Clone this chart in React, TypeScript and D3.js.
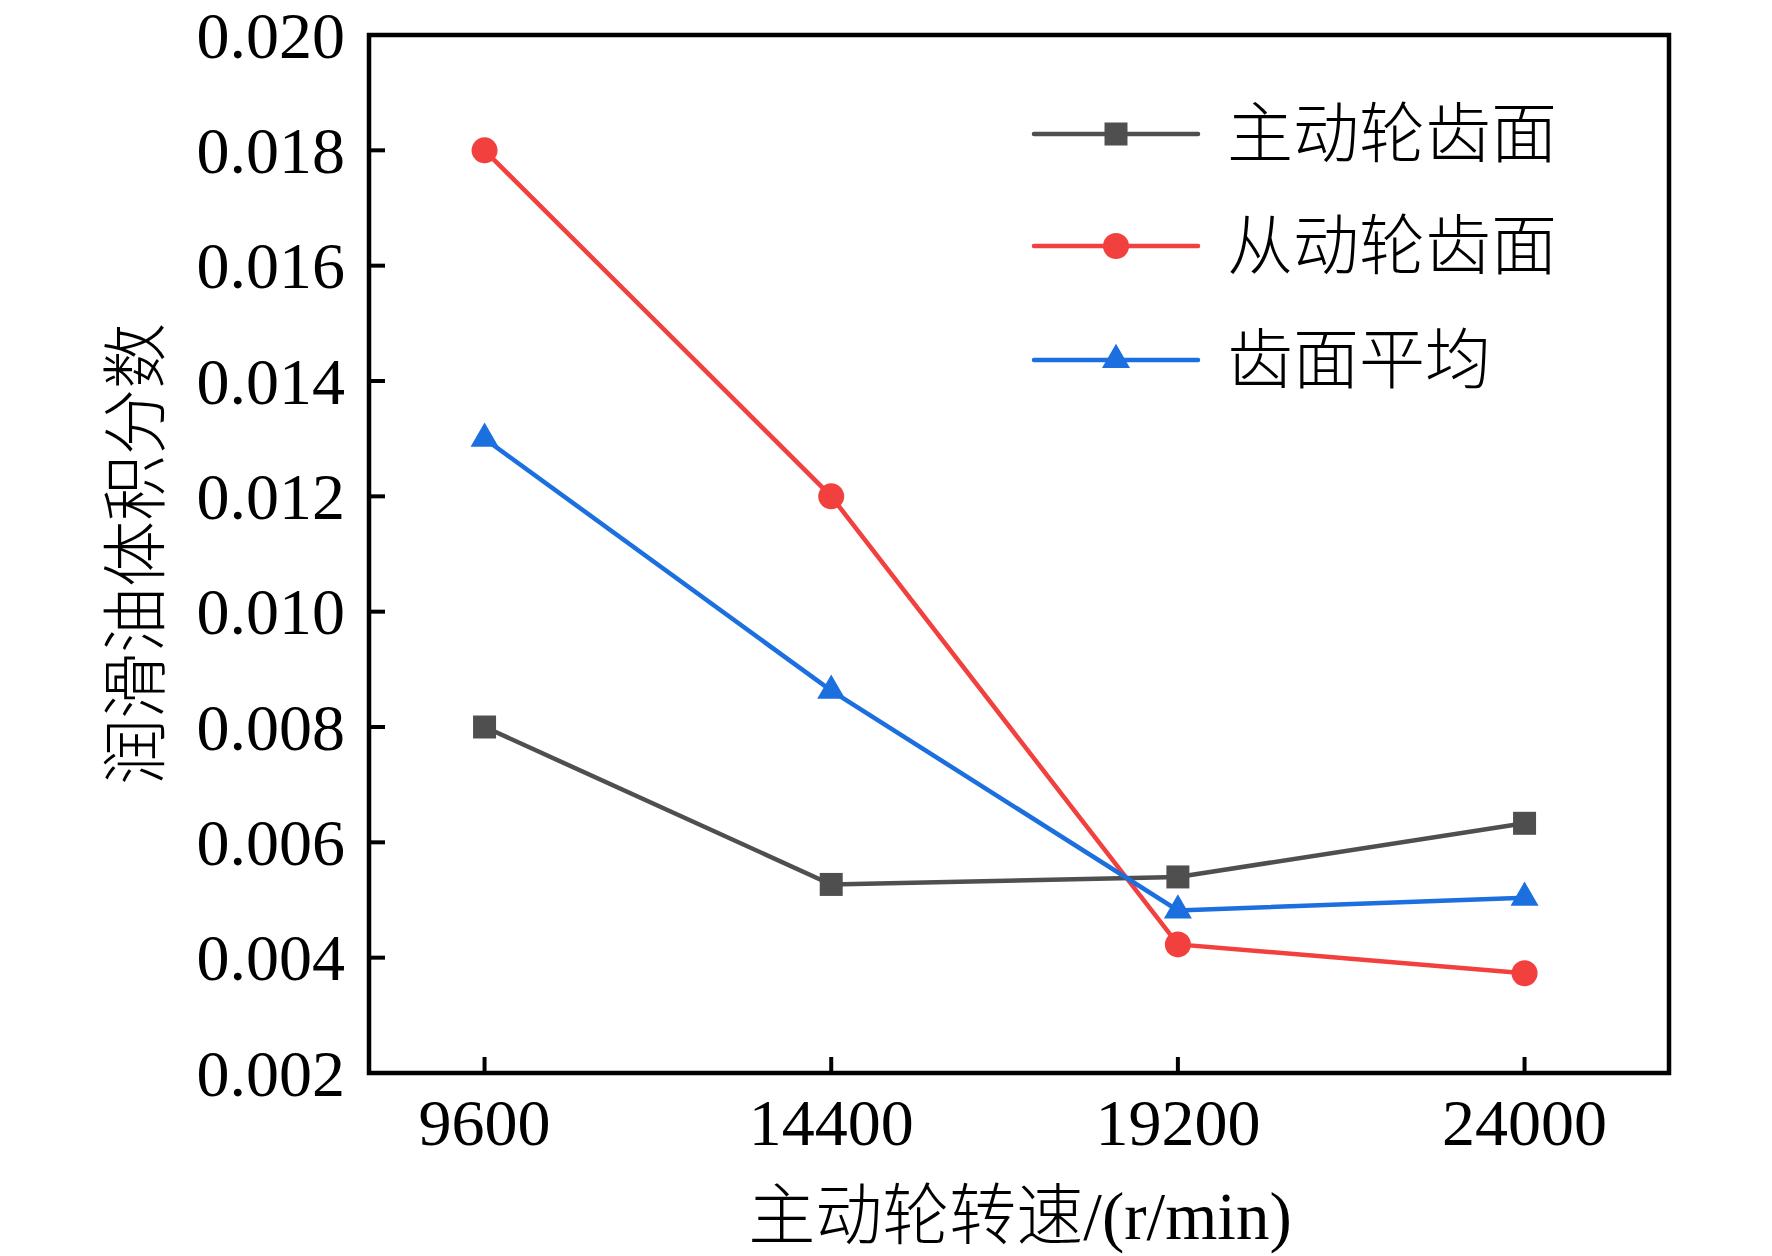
import React from "react";
import * as d3 from "d3";

const speeds = [9600, 14400, 19200, 24000];
const driveFace = [0.008, 0.00527, 0.0054, 0.00633];
const drivenFace = [0.018, 0.012, 0.00423, 0.00373];
const faceAvg = [0.013, 0.00863, 0.00482, 0.00504];
const seriesNames = ["主动轮齿面", "从动轮齿面", "齿面平均"];
const yTicks = [0.002, 0.004, 0.006, 0.008, 0.01, 0.012, 0.014, 0.016, 0.018, 0.02];
const yLabel = "润滑油体积分数";
const xLabel = "主动轮转速/(r/min)";

const W = 1772;
const H = 1256;
const M = { left: 369, right: 1669, top: 35, bottom: 1073 };
const FONT = "'Times New Roman', 'Liberation Serif', 'Noto Sans CJK SC', serif";
const COLORS = ["#4f4f4f", "#f2403f", "#1c6fdf"];
const SYMBOLS = [d3.symbolSquare, d3.symbolCircle, d3.symbolTriangle];
const SIZES = [529, 531, 340];

export default function App() {
  const x = d3.scaleLinear().domain([8000, 26000]).range([M.left, M.right]);
  const y = d3.scaleLinear().domain([0.002, 0.02]).range([M.bottom, M.top]);
  const line = d3
    .line<number>()
    .x((_, i) => x(speeds[i]))
    .y((d) => y(d));
  const all = [driveFace, drivenFace, faceAvg];
  const tickLen = 16;
  const legendRows = [134, 246, 360];

  return (
    <svg
      width={W}
      height={H}
      style={{ position: "absolute", left: 0, top: 0, background: "#fff" }}
      fontFamily={FONT}
    >
      <rect x={0} y={0} width={W} height={H} fill="#fff" />
      {/* ticks */}
      {yTicks.map((t) => (
        <g key={"y" + t}>
          <line x1={M.left} x2={M.left + tickLen} y1={y(t)} y2={y(t)} stroke="#000" strokeWidth={4} />
          <text x={345} y={y(t) + 22.5} textAnchor="end" fontSize={66} fill="#000">
            {d3.format(".3f")(t)}
          </text>
        </g>
      ))}
      {speeds.map((s) => (
        <g key={"x" + s}>
          <line x1={x(s)} x2={x(s)} y1={M.bottom} y2={M.bottom - tickLen} stroke="#000" strokeWidth={4} />
          <text x={x(s)} y={1145} textAnchor="middle" fontSize={66} fill="#000">
            {s}
          </text>
        </g>
      ))}
      {/* series */}
      {all.map((vals, si) => (
        <g key={"s" + si}>
          <path d={line(vals) || ""} fill="none" stroke={COLORS[si]} strokeWidth={4.5} />
          {vals.map((v, i) => (
            <path
              key={i}
              d={d3.symbol(SYMBOLS[si], SIZES[si])() || ""}
              transform={`translate(${x(speeds[i])},${y(v)})`}
              fill={COLORS[si]}
            />
          ))}
        </g>
      ))}
      {/* frame */}
      <rect
        x={M.left}
        y={M.top}
        width={M.right - M.left}
        height={M.bottom - M.top}
        fill="none"
        stroke="#000"
        strokeWidth={4.5}
      />
      {/* legend */}
      {seriesNames.map((name, i) => (
        <g key={"l" + i}>
          <line
            x1={1034}
            x2={1198}
            y1={legendRows[i]}
            y2={legendRows[i]}
            stroke={COLORS[i]}
            strokeWidth={4.5}
            strokeLinecap="round"
          />
          <path
            d={d3.symbol(SYMBOLS[i], SIZES[i])() || ""}
            transform={`translate(1116,${legendRows[i]})`}
            fill={COLORS[i]}
          />
          <text
            x={1227}
            y={legendRows[i]}
            dominantBaseline="central"
            fontSize={66}
            fontWeight={300}
            fill="#000"
          >
            {name}
          </text>
        </g>
      ))}
      {/* axis labels */}
      <text
        transform="translate(136,554) rotate(-90)"
        textAnchor="middle"
        dominantBaseline="central"
        fontSize={66}
        fontWeight={300}
        fill="#000"
      >
        {yLabel}
      </text>
      <text x={1020} y={1239} textAnchor="middle" fontSize={67} fontWeight={300} fill="#000">
        {xLabel}
      </text>
    </svg>
  );
}
